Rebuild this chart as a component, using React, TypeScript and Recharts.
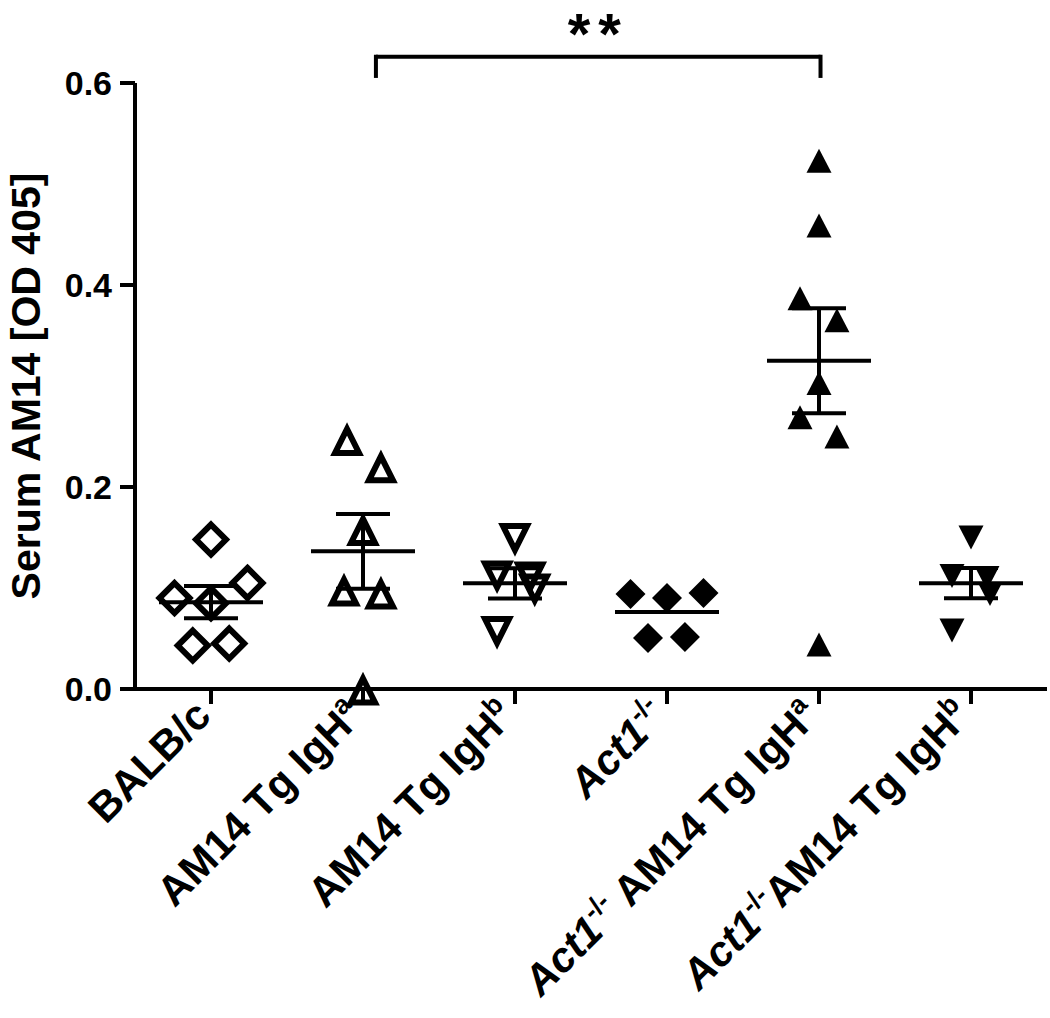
import React from 'react';
import { ScatterChart, Scatter, XAxis, YAxis, ErrorBar, ReferenceLine } from 'recharts';

// group names; *x* = italic, ^x^ = superscript
const groupLabels = [
  'BALB/c',
  'AM14 Tg IgH^a^',
  'AM14 Tg IgH^b^',
  '*Act1*^-/-^',
  '*Act1*^-/-^ AM14 Tg IgH^a^',
  '*Act1*^-/-^AM14 Tg IgH^b^'
];

// values per mouse (OD 405)
const balbValues = [0.148, 0.090, 0.085, 0.105, 0.043, 0.045];
const igHaValues = [0.247, 0.220, 0.158, 0.098, 0.095, 0.0];
const igHbValues = [0.148, 0.111, 0.110, 0.098, 0.056];
const act1Values = [0.094, 0.090, 0.095, 0.0505, 0.0515];
const act1IgHaValues = [0.523, 0.459, 0.387, 0.365, 0.303, 0.269, 0.250, 0.044];
const act1IgHbValues = [0.150, 0.112, 0.110, 0.094, 0.058];

// horizontal scatter of each point (fraction of a group slot)
const balbJitter = [0, -0.24, 0, 0.24, -0.12, 0.12];
const igHaJitter = [-0.105, 0.118, 0, -0.125, 0.118, 0];
const igHbJitter = [0, -0.118, 0.1, 0.13, -0.118];
const act1Jitter = [-0.24, 0, 0.24, -0.125, 0.118];
const act1IgHaJitter = [0, 0, -0.125, 0.118, 0, -0.125, 0.118, 0];
const act1IgHbJitter = [0, -0.125, 0.105, 0.125, -0.125];

// SEM as drawn in the figure
const groupSem = [0.016, 0.037, 0.015, 0, 0.052, 0.015];

const yTicks = [0, 0.2, 0.4, 0.6];

const FONT = '"Liberation Sans", Arial, sans-serif';

const toPoints = (group: number, values: number[], jitter: number[]) =>
  values.map((v, i) => ({ x: group + jitter[i], y: v }));

const allGroups = [balbValues, igHaValues, igHbValues, act1Values, act1IgHaValues, act1IgHbValues];
const meanData = allGroups.map((vals, i) => ({
  x: i + 1,
  y: vals.reduce((a, b) => a + b, 0) / vals.length,
  sem: groupSem[i]
}));

const OpenDiamond = ({ cx, cy }: any) => (
  <path d={`M${cx},${cy - 15} L${cx + 15},${cy} L${cx},${cy + 15} L${cx - 15},${cy} Z`}
    fill="none" stroke="#000" strokeWidth={6} />
);
const FilledDiamond = ({ cx, cy }: any) => (
  <path d={`M${cx},${cy - 15} L${cx + 15},${cy} L${cx},${cy + 15} L${cx - 15},${cy} Z`} fill="#000" />
);
const OpenUp = ({ cx, cy }: any) => (
  <path d={`M${cx},${cy - 10.5} L${cx + 12},${cy + 13.5} L${cx - 12},${cy + 13.5} Z`}
    fill="none" stroke="#000" strokeWidth={6} />
);
const OpenDown = ({ cx, cy }: any) => (
  <path d={`M${cx},${cy + 10.5} L${cx + 12},${cy - 13.5} L${cx - 12},${cy - 13.5} Z`}
    fill="none" stroke="#000" strokeWidth={6} />
);
const FilledUp = ({ cx, cy }: any) => (
  <path d={`M${cx},${cy - 12} L${cx + 12.5},${cy + 12} L${cx - 12.5},${cy + 12} Z`} fill="#000" />
);
const FilledDown = ({ cx, cy }: any) => (
  <path d={`M${cx},${cy + 12} L${cx + 12.5},${cy - 12} L${cx - 12.5},${cy - 12} Z`} fill="#000" />
);
const MeanBar = ({ cx, cy }: any) => (
  <line x1={cx - 52} x2={cx + 52} y1={cy} y2={cy} stroke="#000" strokeWidth={4} />
);

const GroupTick = ({ x, y, payload }: any) => {
  const label = groupLabels[payload.value - 1] ?? '';
  const parts = label.split(/(\*[^*]+\*|\^[^^]+\^)/).filter(Boolean);
  let raised = false;
  const spans = parts.map((p, i) => {
    if (p.startsWith('^')) {
      raised = true;
      return <tspan key={i} fontSize={27} dy={-17}>{p.slice(1, -1)}</tspan>;
    }
    const dy = raised ? 17 : 0;
    raised = false;
    if (p.startsWith('*')) return <tspan key={i} dy={dy} fontStyle="italic">{p.slice(1, -1)}</tspan>;
    return <tspan key={i} dy={dy}>{p}</tspan>;
  });
  return <g transform={`translate(${x + 2},${y + 12}) rotate(-45)`}>
      <text x={0} y={0} textAnchor="end" fill="#000" fontSize={42} fontWeight="bold" fontFamily={FONT}>
        {spans}
      </text>
    </g>;
};

const YTitle = ({ viewBox }: any) => {
  const tx = viewBox.x + 40;
  const ty = viewBox.y + viewBox.height / 2;
  return <text x={tx} y={ty} transform={`rotate(-90 ${tx} ${ty})`} textAnchor="middle" fill="#000"
      fontSize={41} fontWeight="bold" fontFamily={FONT}>Serum AM14 [OD 405]</text>;
};

const App = () => {
  return <div style={{ position: 'absolute', left: 0, top: 0, width: 1050, height: 1018, background: '#fff' }}>
      <ScatterChart width={1050} height={1018} margin={{
      top: 83,
      right: 3,
      bottom: 0,
      left: 0
    }}>
        <XAxis type="number" dataKey="x" domain={[0.5, 6.5]} ticks={[1, 2, 3, 4, 5, 6]} interval={0}
          height={329} stroke="#000" strokeWidth={4} tickSize={15} tick={<GroupTick />} />
        <YAxis type="number" dataKey="y" domain={[0, 0.6]} ticks={yTicks} interval={0} width={135}
          stroke="#000" strokeWidth={4} tickSize={15} tickMargin={8}
          tickFormatter={(v: number) => v.toFixed(1)}
          tick={{ fill: '#000', fontSize: 34, fontWeight: 'bold', fontFamily: FONT }}
          label={<YTitle />} />
        <Scatter data={toPoints(1, balbValues, balbJitter)} shape={<OpenDiamond />} isAnimationActive={false} />
        <Scatter data={toPoints(2, igHaValues, igHaJitter)} shape={<OpenUp />} isAnimationActive={false} />
        <Scatter data={toPoints(3, igHbValues, igHbJitter)} shape={<OpenDown />} isAnimationActive={false} />
        <Scatter data={toPoints(4, act1Values, act1Jitter)} shape={<FilledDiamond />} isAnimationActive={false} />
        <Scatter data={toPoints(5, act1IgHaValues, act1IgHaJitter)} shape={<FilledUp />} isAnimationActive={false} />
        <Scatter data={toPoints(6, act1IgHbValues, act1IgHbJitter)} shape={<FilledDown />} isAnimationActive={false} />
        <Scatter data={meanData} shape={<MeanBar />} isAnimationActive={false}>
          <ErrorBar dataKey="sem" direction="y" width={27} strokeWidth={4} stroke="#000" isAnimationActive={false} />
        </Scatter>
        <ReferenceLine ifOverflow="visible" stroke="#000" strokeWidth={4}
          segment={[{ x: 2.085, y: 0.626 }, { x: 5.01, y: 0.626 }]}
          label={{ value: '**', position: 'top', offset: 3, fill: '#000', fontSize: 58, fontWeight: 'bold', fontFamily: FONT, letterSpacing: 8 }} />
        <ReferenceLine ifOverflow="visible" stroke="#000" strokeWidth={4} strokeLinecap="square"
          segment={[{ x: 2.085, y: 0.626 }, { x: 2.085, y: 0.607 }]} />
        <ReferenceLine ifOverflow="visible" stroke="#000" strokeWidth={4} strokeLinecap="square"
          segment={[{ x: 5.01, y: 0.626 }, { x: 5.01, y: 0.607 }]} />
      </ScatterChart>
    </div>;
};

export default App;
